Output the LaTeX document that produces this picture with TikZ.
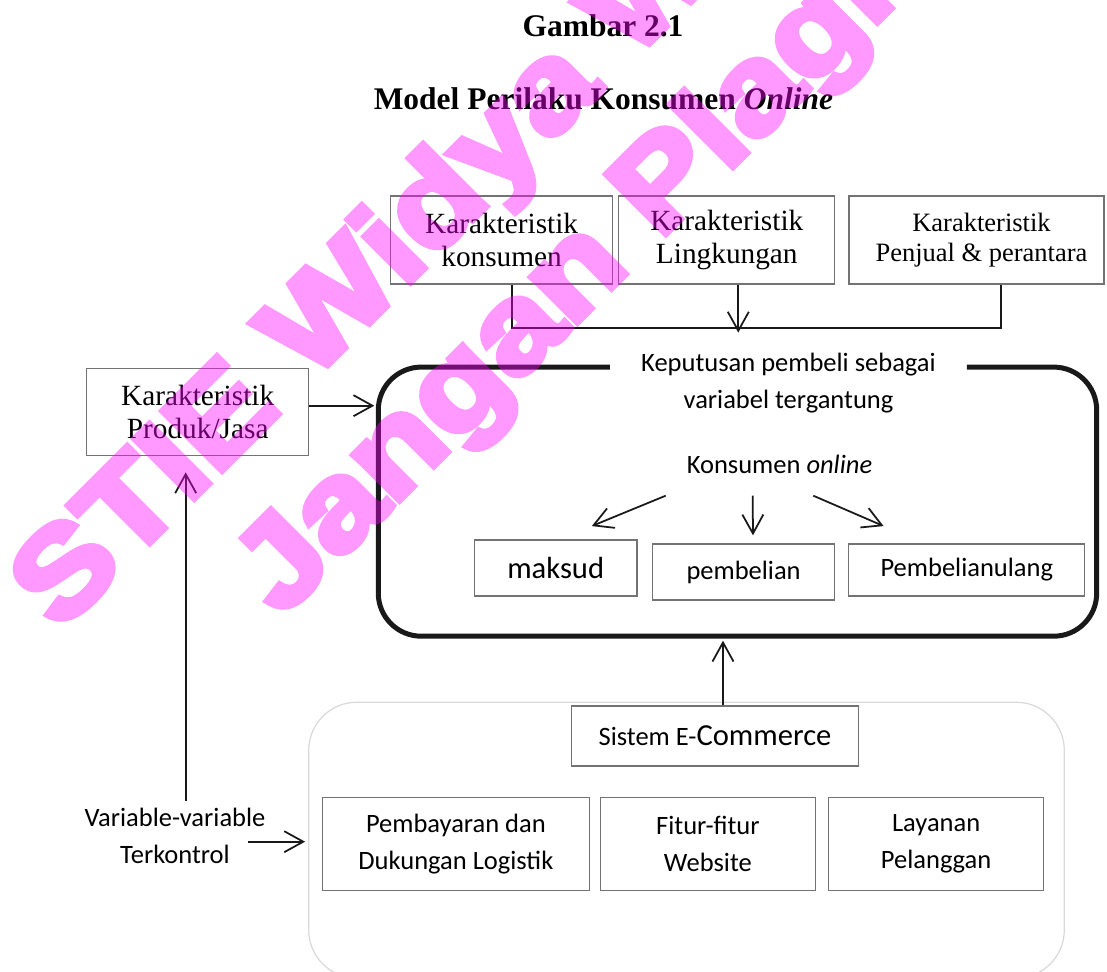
\documentclass[tikz,border=0pt]{standalone}
\usepackage{fontspec}
\setmainfont{Liberation Serif}
\setsansfont{Carlito}
\newfontfamily\wmfont{Liberation Sans Bold}[FakeBold=5]
\usetikzlibrary{arrows.meta,calc,positioning}
\definecolor{wmpink}{RGB}{255,0,255}
\newcommand{\hurufjudul}{\fontsize{8.96}{10.5}\selectfont\bfseries}
\newcommand{\hurufkotak}{\fontsize{8.34}{9.55}\selectfont}
\newcommand{\hurufkecil}{\fontsize{7.54}{8.54}\selectfont}
\newcommand{\hurufsans}{\sffamily\fontsize{7.54}{10.6}\selectfont}
\newcommand{\hurufbesar}{\sffamily\fontsize{8.7}{10.6}\selectfont}

\begin{document}
\begin{tikzpicture}[
    kotak/.style={draw=black!55, line width=0.35pt, inner sep=0pt, align=center},
    arr/.style={-{Straight Barb[length=1.9mm,width=2.1mm]}, line width=0.5pt, black!90},
    wm/.style={font=\wmfont\fontsize{35}{40}\selectfont, text=wmpink, inner sep=0pt, anchor=base west, rotate=45, xscale=1.15}
  ]
  \useasboundingbox (0,0) rectangle (11.07,9.72);

  \node[font=\hurufjudul, anchor=base] (judul) at (6.03,9.355) {Gambar 2.1};
  \node[font=\hurufjudul, anchor=base] (subjudul) at (6.034,8.625) {Model Perilaku Konsumen \textit{Online}};

  \node[kotak, font=\hurufkotak, minimum width=2.222cm, minimum height=0.88cm] (kkonsumen) at (5.016,7.32) {Karakteristik\\konsumen};
  \node[kotak, font=\hurufkotak, minimum width=2.16cm, minimum height=0.88cm] (klingkungan) at (7.268,7.32) {Karakteristik\\Lingkungan};
  \node[kotak, font=\hurufkecil, minimum width=2.55cm, minimum height=0.88cm] (kpenjual) at (9.765,7.32) {\hspace*{0.1cm}Karakteristik\\\hspace*{0.1cm}Penjual \& perantara};
  \node[kotak, font=\hurufkotak, minimum width=2.22cm, minimum height=0.874cm] (kproduk) at (1.977,5.60) {Karakteristik\\Produk/Jasa};

  \node[minimum width=7.17cm, minimum height=2.677cm, inner sep=0pt] (keputusan) at (7.375,4.7035) {};
  \draw[line width=1.42pt, black!90, rounded corners=4.3mm] ($(keputusan.north)+(-1.275,0)$) -| (keputusan.south west) -| (keputusan.north east) -- ($(keputusan.north)+(2.295,0)$);
  \node[font=\hurufsans, align=center, anchor=base, inner sep=0pt] (tergantung) at (7.885,5.637) {Keputusan pembeli sebagai\\variabel tergantung};
  \node[font=\hurufsans, anchor=base, inner sep=0pt] (konline) at (7.795,4.987) {Konsumen \textit{online}};

  \node[kotak, font=\hurufbesar, minimum width=1.627cm, minimum height=0.56cm] (maksud) at (5.557,4.04) {maksud};
  \node[kotak, font=\hurufsans, minimum width=1.824cm, minimum height=0.56cm] (pembelian) at (7.436,4.00) {pembelian};
  \node[kotak, font=\hurufsans, minimum width=2.359cm, minimum height=0.52cm] (ulang) at (9.668,4.02) {Pembelianulang};

  \node[draw=black!15, line width=0.35pt, rounded corners=4.8mm, minimum width=7.556cm, minimum height=2.757cm, inner sep=0pt] (ecom) at (6.865,1.3185) {};
  \node[kotak, font=\hurufsans, minimum width=2.867cm, minimum height=0.60cm] (sistem) at (7.15,2.36) {Sistem E-{\hurufbesar Commerce}};
  \node[kotak, font=\hurufsans, minimum width=2.666cm, minimum height=0.926cm] (bayar) at (4.559,1.28) {Pembayaran dan\\Dukungan Logistik};
  \node[kotak, font=\hurufsans, minimum width=2.146cm, minimum height=0.926cm] (fitur) at (7.079,1.28) {Fitur-fitur\\Website};
  \node[kotak, font=\hurufsans, minimum width=2.151cm, minimum height=0.926cm] (layanan) at (9.3615,1.28) {Layanan\\Pelanggan};

  \node[font=\hurufsans, align=center, anchor=base, inner sep=0pt] (kontrol) at (1.75,1.08) {Variable-variable\\Terkontrol};

  \coordinate (ta) at ([xshift=1.01mm]kkonsumen.south);
  \coordinate (tb) at ([xshift=1.15mm]klingkungan.south);
  \coordinate (tc) at ([xshift=2.45mm]kpenjual.south);
  \draw[line width=0.5pt, black!90] (ta) -- ++(0,-0.437) -| (tc);
  \draw[arr] (tb) -- ++(0,-0.48);

  \coordinate (p1) at ($(kproduk.east)+(0,0.063)$);
  \draw[arr, shorten >=0.04cm] (p1) -- (p1 -| keputusan.west);

  \draw[arr] ($(konline.base)+(-1.138,-0.224)$) -- ($(maksud.north)+(0.361,0.133)$);
  \draw[arr] ($(konline.base)+(-0.268,-0.224)$) -- ($(pembelian.north)+(0.094,0.08)$);
  \draw[arr] ($(konline.base)+(0.338,-0.224)$) -- ($(ulang.north)+(-0.832,0.173)$);

  \coordinate (s1) at ([xshift=0.8mm]sistem.north);
  \draw[arr, shorten >=0.045cm] (s1) -- (s1 |- keputusan.south);

  \coordinate (v1) at ($(kontrol.north)+(0.107,0.07)$);
  \draw[arr, shorten >=0.16cm] (v1) -- (v1 |- kproduk.south);
  \coordinate (v2) at ($(kontrol.base)+(0.73,0.223)$);
  \draw[arr, shorten >=0.03cm] (v2) -- (v2 -| ecom.west);

  \begin{scope}[transparency group, opacity=0.4]
    \node[wm] (wm1) at (0.595,3.385) {STIE Widya Wiwaha};
    \node[wm] (wm2) at (2.81,3.53) {Jangan Plagiat};
  \end{scope}
\end{tikzpicture}
\end{document}
